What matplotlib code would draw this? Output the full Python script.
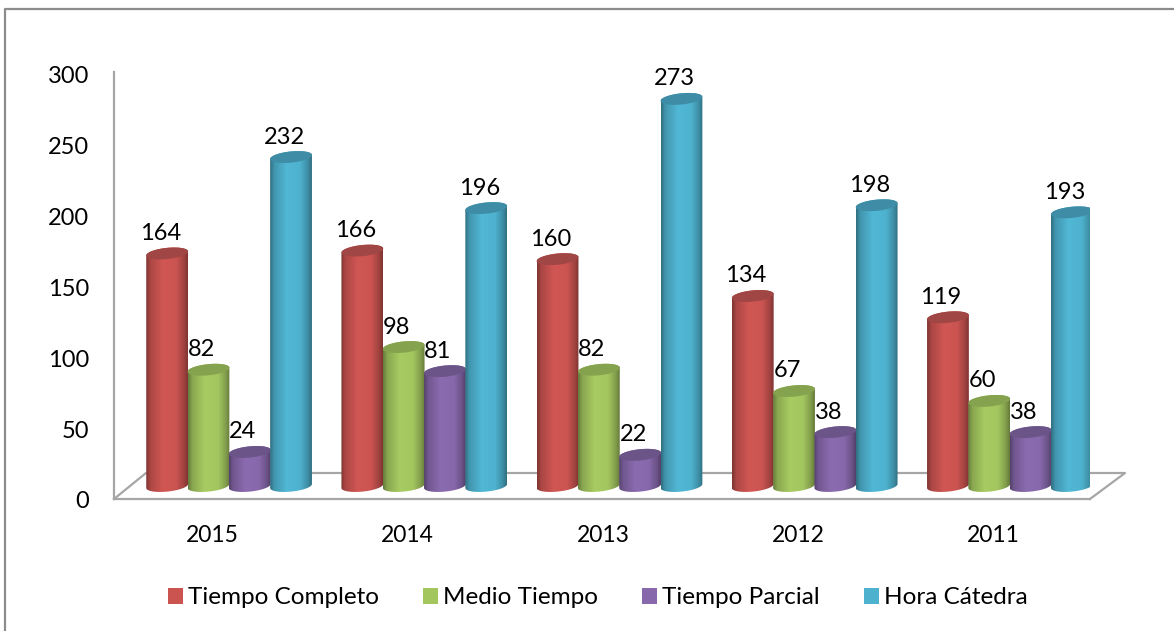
import numpy as np
import matplotlib
matplotlib.use("Agg")
import matplotlib.pyplot as plt
from matplotlib.patches import Patch, Polygon, PathPatch
from matplotlib.path import Path
from matplotlib.colors import to_rgb
from matplotlib.lines import Line2D
from matplotlib.transforms import Affine2D

years = ["2015", "2014", "2013", "2012", "2011"]
tiempo_completo = [164, 166, 160, 134, 119]
medio_tiempo = [82, 98, 82, 67, 60]
tiempo_parcial = [24, 81, 22, 38, 38]
hora_catedra = [232, 196, 273, 198, 193]
series_names = ["Tiempo Completo", "Medio Tiempo", "Tiempo Parcial", "Hora Cátedra"]
series_values = [tiempo_completo, medio_tiempo, tiempo_parcial, hora_catedra]
series_colors = ["#CB5451", "#A3C65F", "#8768AB", "#4EB2CF"]
top_colors = ["#A04644", "#85A24E", "#6B5488", "#3F8CA6"]
y_ticks = [0, 50, 100, 150, 200, 250, 300]

W, H = 1174, 631
plt.rcParams["font.family"] = ["Lato", "DejaVu Sans"]
FS = 17.0
GREY = "#A6A6A6"

fig = plt.figure(figsize=(W / 100, H / 100), dpi=100)
ax = fig.add_axes([114 / W, (H - 499) / H, 976 / W, 427 / H])
PX = 195.2
PY = 1.418
ax.set_xlim(-0.5, 4.5)
ax.set_ylim(0, 427 / PY)

for s in ("top", "right"):
    ax.spines[s].set_visible(False)
for s in ("left", "bottom"):
    ax.spines[s].set_color(GREY)
    ax.spines[s].set_linewidth(1.6)
ax.set_yticks(y_ticks)
ax.set_xticks(range(len(years)))
ax.set_xticklabels(years)
ax.tick_params(axis="y", length=0, pad=17.7, labelsize=FS)
ax.tick_params(axis="x", length=0, pad=18.5, labelsize=FS - 0.5)
for lab in ax.get_yticklabels():
    lab.set_transform(lab.get_transform() + Affine2D().translate(0, -1))
for lab in ax.get_xticklabels():
    lab.set_transform(lab.get_transform() + Affine2D().translate(1, 0))

# floor of the pseudo-3D box
dx_floor = 32 / PX
dy_floor = 26 / PY
x0, x1 = -0.5, 4.5
fl_x = [x0, x0 + dx_floor, x1 + 35 / PX, x1]
fl_y = [0, dy_floor, dy_floor, 0]
ax.add_line(Line2D(fl_x, fl_y, color=GREY, lw=1.6, clip_on=False, zorder=1))

# cylinder geometry
depth_x = 17.5 / PX
depth_y = 13 / PY
a = 20.9 / PX
b = 5.6 / PY
sh = 2.0 / PY
bar_w = 41.3 / PX
shade_x = np.array([0, 0.10, 0.4, 0.72, 0.9, 1.0])
shade_v = np.array([0.62, 0.84, 1.03, 1.0, 0.8, 0.62])
tt = np.linspace(0, 1, 128)
shade = np.interp(tt, shade_x, shade_v)


def arc(cx, cy, t0, t1):
    t = np.linspace(t0, t1, 60)
    return np.column_stack([cx + a * np.cos(t), cy + sh * np.cos(t) + b * np.sin(t)])


z = 3
for si, (vals, col, tcol) in enumerate(zip(series_values, series_colors, top_colors)):
    rgb = np.array(to_rgb(col))
    img = np.clip(shade[None, :, None] * rgb[None, None, :], 0, 1)
    for ci, v in enumerate(vals):
        cx = ci + depth_x + (si - 1.5) * bar_w
        y_base = depth_y
        y_top = v + depth_y
        body = np.vstack([arc(cx, y_base, np.pi, 2 * np.pi), arc(cx, y_top, 0, np.pi)])
        clip = PathPatch(Path(np.vstack([body, body[0]])), transform=ax.transData,
                         fc="none", ec="none")
        ax.add_patch(clip)
        im = ax.imshow(img, extent=[cx - a, cx + a, y_base - b - sh, y_top + b + sh],
                       aspect="auto", zorder=z, interpolation="bilinear")
        im.set_clip_path(clip)
        ax.add_patch(Polygon(arc(cx, y_top, 0, 2 * np.pi), closed=True,
                             fc=tcol, ec="none", zorder=z + 0.5))
        ax.annotate(str(v), (cx, y_top), xytext=(-7 * 0.72, 20 * 0.72),
                    textcoords="offset points", ha="center", va="center",
                    fontsize=FS, color="black", zorder=50)
        z += 1

ax.set_xlim(-0.5, 4.5)
ax.set_ylim(0, 427 / PY)

# outer chart frame (top and left edges)
fig.add_artist(Line2D([5 / W, 5 / W, 1], [0, 1 - 9 / H, 1 - 9 / H],
                      transform=fig.transFigure, color="#8C8C8C", lw=1.6))

handles = [Patch(facecolor=c, edgecolor="none") for c in series_colors]
fig.legend(handles, series_names, ncol=4, frameon=False, fontsize=17.5,
           loc="center", bbox_to_anchor=(598 / W, (H - 598) / H),
           handlelength=0.6, handleheight=0.6, handletextpad=0.22, columnspacing=1.82)

fig.savefig("out.png", dpi=100)
